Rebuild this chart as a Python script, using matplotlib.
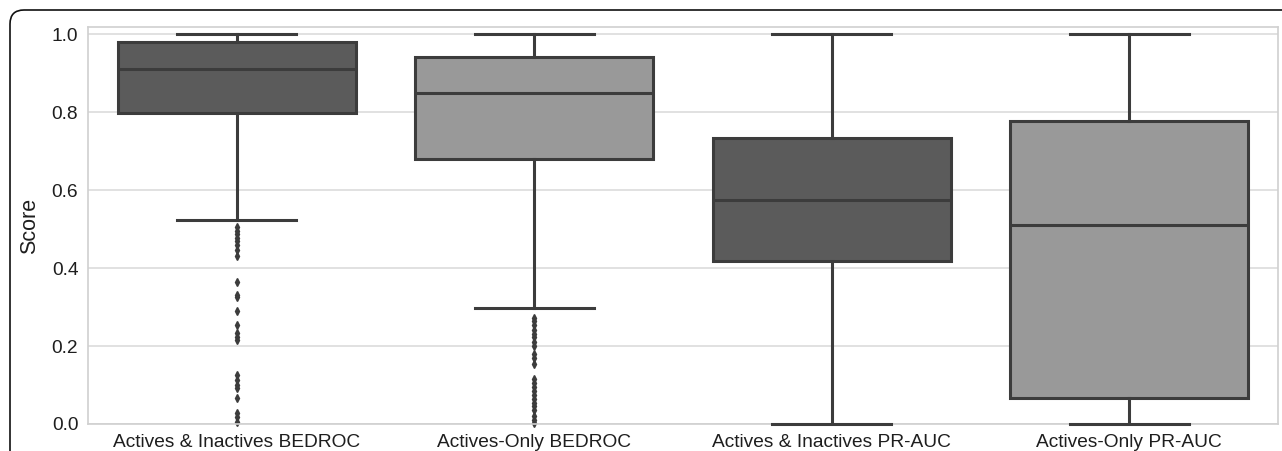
import numpy as np
import matplotlib
matplotlib.use("Agg")
import matplotlib.pyplot as plt
import matplotlib.patches as patches
from matplotlib.transforms import IdentityTransform

plt.rcParams['font.family'] = ['Liberation Sans', 'DejaVu Sans']

# categories and box statistics
labels = ["Actives & Inactives BEDROC", "Actives-Only BEDROC",
          "Actives & Inactives PR-AUC", "Actives-Only PR-AUC"]
whislo = [0.523, 0.297, 0.0, 0.0]
q1 = [0.797, 0.679, 0.418, 0.066]
med = [0.910, 0.848, 0.574, 0.510]
q3 = [0.979, 0.940, 0.733, 0.778]
whishi = [1.0, 1.0, 1.0, 1.0]
fliers_bedroc_ai = [0.504, 0.496, 0.488, 0.478, 0.468, 0.458, 0.445, 0.432,
                    0.364, 0.332, 0.325, 0.29, 0.253, 0.233, 0.223, 0.215,
                    0.125, 0.113, 0.10, 0.092, 0.066, 0.028, 0.018, 0.006]
fliers_bedroc_ao = [0.272, 0.265, 0.255, 0.24, 0.23, 0.222, 0.21, 0.20, 0.18,
                    0.17, 0.155, 0.115, 0.105, 0.095, 0.085, 0.075, 0.065,
                    0.055, 0.045, 0.035, 0.02, 0.01, 0.003]
fliers_prauc_ai = []
fliers_prauc_ao = []
fliers = [fliers_bedroc_ai, fliers_bedroc_ao, fliers_prauc_ai, fliers_prauc_ao]
box_colors = ["#5b5b5b", "#999999", "#5b5b5b", "#999999"]

W, H = 1282, 451
fig = plt.figure(figsize=(W / 100, H / 100), dpi=100)
ax = fig.add_axes([88 / W, 1 - 424 / H, (1278 - 88) / W, (424 - 27) / H])

stats = []
for i in range(len(labels)):
    stats.append(dict(label=labels[i], whislo=whislo[i], q1=q1[i], med=med[i],
                      q3=q3[i], whishi=whishi[i], fliers=fliers[i]))

line_c = "#3c3c3c"
bp = ax.bxp(stats, positions=range(len(labels)), widths=0.8, patch_artist=True,
            showfliers=True,
            boxprops=dict(edgecolor=line_c, linewidth=2.2),
            medianprops=dict(color=line_c, linewidth=2.2),
            whiskerprops=dict(color=line_c, linewidth=2.2),
            capprops=dict(color=line_c, linewidth=2.2),
            flierprops=dict(marker="d", markersize=4, markerfacecolor=line_c,
                            markeredgecolor=line_c, linestyle="none"))
for patch, c in zip(bp["boxes"], box_colors):
    patch.set_facecolor(c)
for cap in bp["caps"]:
    x = cap.get_xdata()
    m = x.mean()
    cap.set_xdata([m - 0.2, m + 0.2])
    cap.set_clip_on(False)
    cap.set_zorder(4)
for fl in bp["fliers"]:
    fl.set_clip_on(False)

ax.set_xlim(-0.5, len(labels) - 0.5)
ax.set_ylim(0, 1.018)
ax.set_yticks([0.0, 0.2, 0.4, 0.6, 0.8, 1.0])
ax.set_yticklabels(["0.0", "0.2", "0.4", "0.6", "0.8", "1.0"])
ax.yaxis.grid(True, color="#dcdcdc", linewidth=1.2)
ax.set_axisbelow(True)
ax.tick_params(length=0, labelsize=13.8, colors="#1e1e1e", pad=7)
for s in ax.spines.values():
    s.set_color("#d0d0d0")
    s.set_linewidth(1.2)
ax.set_ylabel("Score", fontsize=15.5, color="#1e1e1e", labelpad=8)

# rounded outer frame
frame = patches.FancyBboxPatch((10, -60), 1400, H - 10 + 60,
                               boxstyle="round,pad=0,rounding_size=14",
                               fill=False, edgecolor="#111111", linewidth=1.2,
                               transform=IdentityTransform())
fig.add_artist(frame)

fig.savefig("out.png", dpi=100)
